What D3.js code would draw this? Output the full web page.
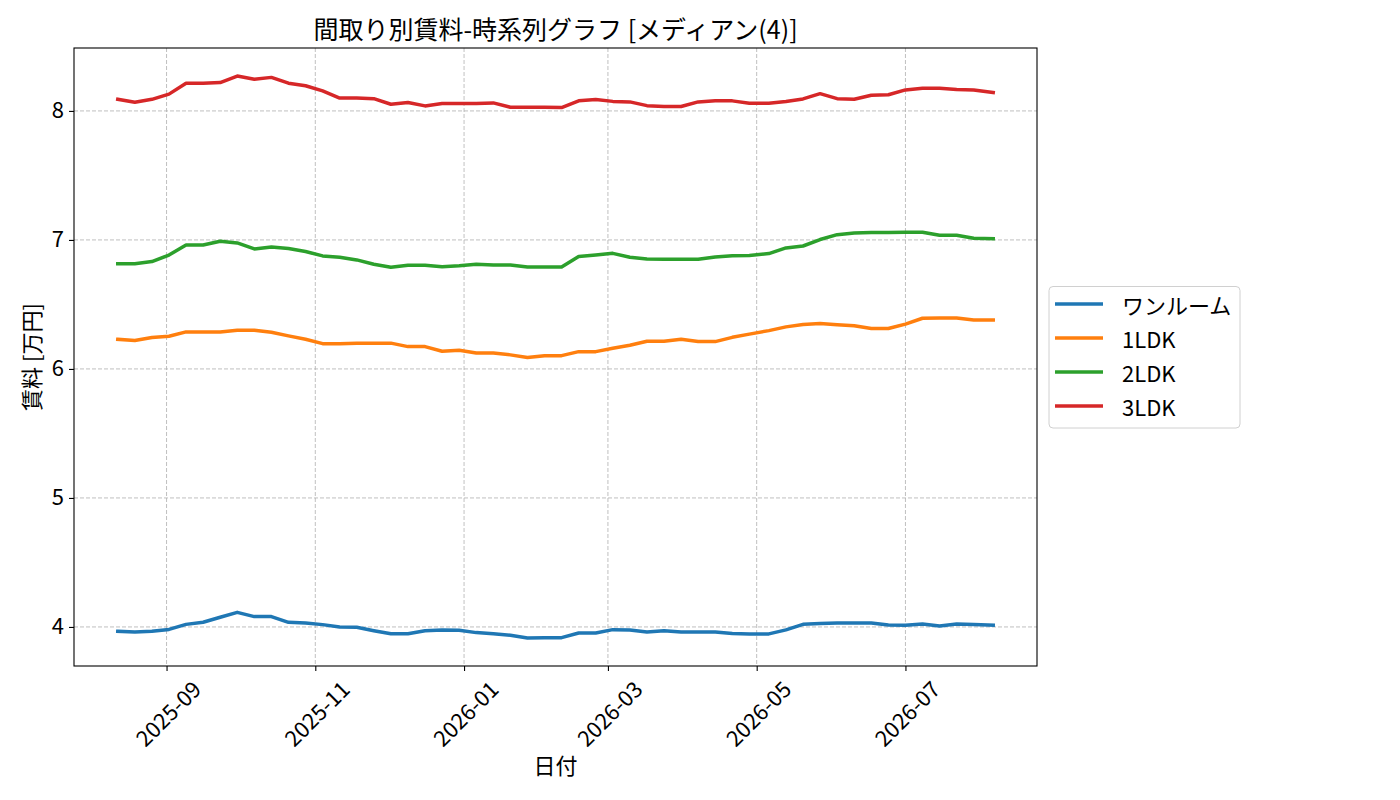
<!DOCTYPE html>
<html>
<head>
<meta charset="utf-8">
<script src="https://cdn.jsdelivr.net/npm/d3@7"></script>
<style>
  body { margin: 0; background: #fff; }
  text { font-family: "Noto Sans CJK JP", "Noto Sans", sans-serif; fill: #000; }
</style>
</head>
<body>
<div id="chart"></div>
<script>
// Sample dates (roughly weekly)
let dates = ["2025-08-12", "2025-08-19", "2025-08-26", "2025-09-02", "2025-09-09", "2025-09-16",
             "2025-09-23", "2025-09-30", "2025-10-07", "2025-10-14", "2025-10-21", "2025-10-28",
             "2025-11-04", "2025-11-11", "2025-11-18", "2025-11-25", "2025-12-02", "2025-12-09",
             "2025-12-16", "2025-12-23", "2025-12-30", "2026-01-06", "2026-01-13", "2026-01-20",
             "2026-01-27", "2026-02-03", "2026-02-10", "2026-02-17", "2026-02-24", "2026-03-03",
             "2026-03-10", "2026-03-17", "2026-03-24", "2026-03-31", "2026-04-07", "2026-04-14",
             "2026-04-21", "2026-04-28", "2026-05-06", "2026-05-13", "2026-05-20", "2026-05-27",
             "2026-06-03", "2026-06-10", "2026-06-17", "2026-06-24", "2026-07-01", "2026-07-08",
             "2026-07-15", "2026-07-22", "2026-07-29", "2026-08-06"];

// Median rent per layout (万円)
let oneRoom = [3.966, 3.961, 3.966, 3.981, 4.02, 4.036, 4.075, 4.113, 4.08, 4.08,
               4.036, 4.031, 4.018, 4.0, 3.997, 3.971, 3.948, 3.948, 3.971, 3.977,
               3.974, 3.956, 3.948, 3.935, 3.915, 3.917, 3.917, 3.953, 3.953, 3.979,
               3.977, 3.961, 3.971, 3.961, 3.961, 3.961, 3.95, 3.946, 3.946, 3.977,
               4.02, 4.026, 4.031, 4.031, 4.031, 4.015, 4.013, 4.023, 4.008, 4.023,
               4.018, 4.013];
let ldk1 = [6.23, 6.22, 6.243, 6.253, 6.287, 6.287, 6.287, 6.30, 6.30, 6.284,
            6.256, 6.23, 6.196, 6.196, 6.20, 6.20, 6.20, 6.173, 6.173, 6.137,
            6.145, 6.124, 6.124, 6.109, 6.088, 6.103, 6.103, 6.134, 6.134, 6.16,
            6.183, 6.214, 6.214, 6.23, 6.212, 6.212, 6.245, 6.27, 6.297, 6.326,
            6.344, 6.352, 6.342, 6.334, 6.313, 6.313, 6.347, 6.393, 6.395, 6.395,
            6.38, 6.38];
let ldk2 = [6.816, 6.816, 6.832, 6.883, 6.961, 6.961, 6.99, 6.977, 6.93, 6.946,
            6.933, 6.91, 6.876, 6.866, 6.845, 6.811, 6.788, 6.803, 6.803, 6.793,
            6.80, 6.811, 6.806, 6.806, 6.79, 6.79, 6.79, 6.871, 6.883, 6.896,
            6.866, 6.852, 6.85, 6.85, 6.85, 6.868, 6.878, 6.88, 6.894, 6.938,
            6.953, 7.003, 7.041, 7.054, 7.057, 7.057, 7.06, 7.06, 7.036, 7.036,
            7.013, 7.01];
let ldk3 = [8.09, 8.067, 8.09, 8.13, 8.215, 8.215, 8.22, 8.27, 8.246, 8.26,
            8.215, 8.195, 8.155, 8.10, 8.10, 8.095, 8.052, 8.065, 8.039, 8.057,
            8.057, 8.057, 8.062, 8.029, 8.029, 8.029, 8.026, 8.078, 8.088, 8.074,
            8.07, 8.041, 8.034, 8.034, 8.07, 8.078, 8.078, 8.06, 8.06, 8.073,
            8.093, 8.134, 8.095, 8.09, 8.122, 8.125, 8.163, 8.176, 8.176, 8.166,
            8.163, 8.142];

let seriesNames = ["ワンルーム", "1LDK", "2LDK", "3LDK"];
let seriesValues = [oneRoom, ldk1, ldk2, ldk3];
let seriesColors = ["#1f77b4", "#ff7f0e", "#2ca02c", "#d62728"];

// Tick labels
let xTicks = ["2025-09", "2025-11", "2026-01", "2026-03", "2026-05", "2026-07"];
let yTicks = [4, 5, 6, 7, 8];

// Dimensions of the plot area
let width = 1400, height = 800;
let margin = {top: 48, right: 363, bottom: 134, left: 74};
let plotW = width - margin.left - margin.right,
    plotH = height - margin.top - margin.bottom;

let parseDay = d3.timeParse("%Y-%m-%d");
let parseMonth = d3.timeParse("%Y-%m");
let days = dates.map(parseDay);

let svg = d3.select("#chart").append("svg")
    .attr("width", width)
    .attr("height", height);

let g = svg.append("g")
    .attr("transform", "translate(" + margin.left + "," + margin.top + ")");

// Scales with 5% padding like matplotlib
let xExt = d3.extent(days);
let xPad = (xExt[1] - xExt[0]) * 0.05;
let x = d3.scaleTime()
    .domain([new Date(+xExt[0] - xPad), new Date(+xExt[1] + xPad)])
    .range([0, plotW]);

let allVals = seriesValues.flat();
let yMin = d3.min(allVals), yMax = d3.max(allVals);
let yPad = (yMax - yMin) * 0.05;
let y = d3.scaleLinear()
    .domain([yMin - yPad, yMax + yPad])
    .range([plotH, 0]);

// Grid lines
g.append("g").selectAll("line")
    .data(xTicks.map(parseMonth))
    .enter().append("line")
    .attr("x1", d => x(d)).attr("x2", d => x(d))
    .attr("y1", 0).attr("y2", plotH)
    .attr("stroke", "#b0b0b0").attr("stroke-width", 0.8)
    .attr("stroke-dasharray", "4,2");
g.append("g").selectAll("line")
    .data(yTicks)
    .enter().append("line")
    .attr("x1", 0).attr("x2", plotW)
    .attr("y1", d => y(d)).attr("y2", d => y(d))
    .attr("stroke", "#b0b0b0").attr("stroke-width", 0.8)
    .attr("stroke-dasharray", "4,2");

// Series lines
let line = d3.line()
    .x((d, i) => x(days[i]))
    .y(d => y(d));

g.append("g").selectAll("path")
    .data(seriesValues)
    .enter().append("path")
    .attr("d", d => line(d))
    .attr("fill", "none")
    .attr("stroke", (d, i) => seriesColors[i])
    .attr("stroke-width", 3.5)
    .attr("stroke-linejoin", "round")
    .attr("stroke-linecap", "square");

// Frame
g.append("rect")
    .attr("width", plotW).attr("height", plotH)
    .attr("fill", "none").attr("stroke", "#000").attr("stroke-width", 1.1);

// Y axis
let yAxis = g.append("g")
    .call(d3.axisLeft(y).tickValues(yTicks).tickSize(5).tickPadding(5).tickFormat(d3.format("d")));
yAxis.select(".domain").remove();
yAxis.selectAll("line").attr("stroke", "#000").attr("stroke-width", 1.1);
yAxis.selectAll("text").attr("font-size", "22px")
    .attr("font-family", "Noto Sans CJK JP");

// X axis with rotated labels
let xAxis = g.append("g")
    .attr("transform", "translate(0," + plotH + ")")
    .call(d3.axisBottom(x).tickValues(xTicks.map(parseMonth)).tickSize(5).tickFormat(d3.timeFormat("%Y-%m")));
xAxis.select(".domain").remove();
xAxis.selectAll("line").attr("stroke", "#000").attr("stroke-width", 1.1);
xAxis.selectAll("text")
    .attr("font-size", "22px")
    .attr("font-family", "Noto Sans CJK JP")
    .attr("text-anchor", "middle")
    .attr("dy", null)
    .attr("dominant-baseline", "central")
    .each(function() {
        // centre the rotated box under the tick
        let len = this.getComputedTextLength();
        let half = (len + 22) * Math.SQRT1_2 / 2;
        d3.select(this).attr("y", null)
            .attr("transform", "translate(0," + (10 + half) + ") rotate(-45)");
    });

// Axis titles
svg.append("text")
    .attr("x", margin.left + plotW / 2)
    .attr("y", 774)
    .attr("text-anchor", "middle")
    .attr("font-size", "22px")
    .text("日付");

svg.append("text")
    .attr("transform", "translate(40," + (margin.top + plotH / 2) + ") rotate(-90)")
    .attr("text-anchor", "middle")
    .attr("font-size", "22px")
    .text("賃料 [万円]");

// Chart title
svg.append("text")
    .attr("x", margin.left + plotW / 2)
    .attr("y", 39)
    .attr("text-anchor", "middle")
    .attr("font-size", "25px")
    .text("間取り別賃料-時系列グラフ [メディアン(4)]");

// Legend
let legend = svg.append("g")
    .attr("transform", "translate(1049,286.5)");
legend.append("rect")
    .attr("width", 191).attr("height", 141.5)
    .attr("rx", 4)
    .attr("fill", "#fff")
    .attr("stroke", "#d0d0d0");

let rows = legend.selectAll(".legend-row")
    .data(seriesNames)
    .enter().append("g")
    .attr("class", "legend-row")
    .attr("transform", (d, i) => "translate(0," + (17.5 + i * 34) + ")");
rows.append("line")
    .attr("x1", 6).attr("x2", 54)
    .attr("stroke", (d, i) => seriesColors[i])
    .attr("stroke-width", 3.5);
rows.append("text")
    .attr("x", 73)
    .attr("dominant-baseline", "central")
    .attr("font-size", "22px")
    .text(d => d);
</script>
</body>
</html>
